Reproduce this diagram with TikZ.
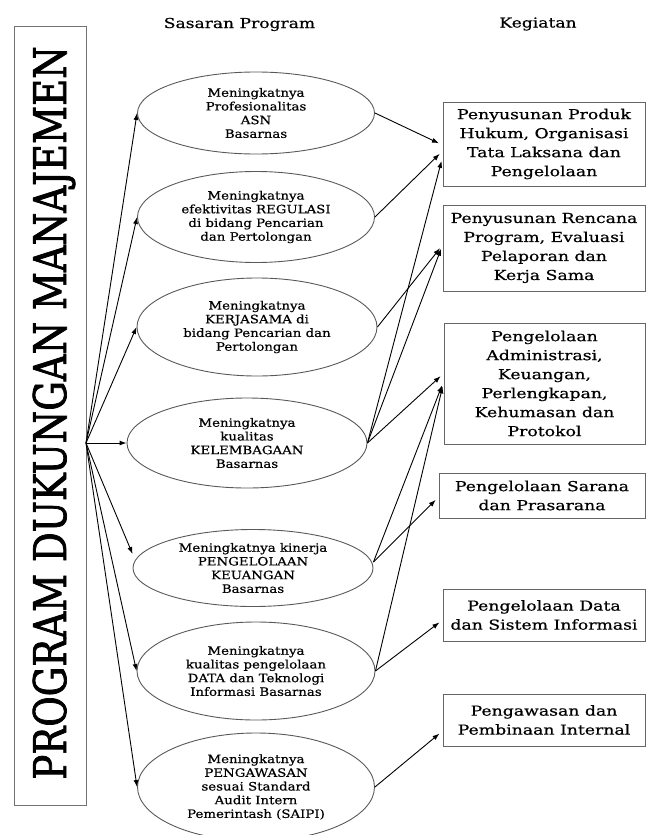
\documentclass[tikz,border=0pt]{standalone}
\usepackage{fontspec}
\setmainfont{DejaVu Serif}
\newfontfamily\ellfont[FakeStretch=1.16,FakeBold=0.6]{DejaVu Serif}
\newfontfamily\boxfont[FakeStretch=1.26,FakeBold=0.6]{DejaVu Serif}
\newfontfamily\hdrfont[FakeStretch=1.25,FakeBold=0.5]{DejaVu Serif}
\newfontfamily\ttlfont[FakeStretch=0.825,FakeBold=1.6]{DejaVu Serif}
\usetikzlibrary{shapes.geometric,arrows.meta}
\begin{document}
\begin{tikzpicture}[x=1pt,y=-1pt,
  ell/.style={ellipse, draw=black!65, line width=0.9pt, inner sep=0pt, align=center,
    font=\ellfont\fontsize{11.5}{13.7}\selectfont},
  kbox/.style={rectangle, draw=black!60, line width=0.9pt, inner sep=0pt, align=center,
    font=\boxfont\fontsize{13.7}{19}\selectfont, minimum width=202pt},
  hdr/.style={font=\hdrfont\fontsize{13.7}{16}\selectfont, inner sep=0pt},
  arr/.style={-{Latex[length=7pt,width=5pt]}, line width=0.9pt, black},
  arrb/.style={arr, shorten >=4pt},
]
\useasboundingbox (0,0) rectangle (646,835);

% title box
\node[draw=black!55, line width=0.9pt, minimum width=72pt, minimum height=779pt, inner sep=0pt] (tbox) at (50,415.5) {};
\node[rotate=90, inner sep=0pt, font=\ttlfont\fontsize{45}{45}\selectfont] (title) at (54,413) {PROGRAM DUKUNGAN MANAJEMEN};

% headers
\node[hdr, anchor=base] (h1) at (239.5,28) {Sasaran Program};
\node[hdr, anchor=base] (h2) at (538,27.5) {Kegiatan};

% ellipses
\node[ell, minimum width=237pt, minimum height=82pt] (e1) at (256,113) {Meningkatnya\\Profesionalitas\\ASN\\Basarnas};
\node[ell, minimum width=237pt, minimum height=91pt] (e2) at (256,217) {Meningkatnya\\efektivitas REGULASI\\di bidang Pencarian\\dan Pertolongan};
\node[ell, minimum width=240pt, minimum height=98pt] (e3) at (257,327) {Meningkatnya\\KERJASAMA di\\bidang Pencarian dan\\Pertolongan};
\node[ell, minimum width=240pt, minimum height=90pt] (e4) at (247,443) {Meningkatnya\\kualitas\\KELEMBAGAAN\\Basarnas};
\node[ell, minimum width=240pt, minimum height=77pt] (e5) at (253,568) {Meningkatnya kinerja\\PENGELOLAAN\\KEUANGAN\\Basarnas};
\node[ell, minimum width=238pt, minimum height=98pt] (e6) at (256,671) {Meningkatnya\\kualitas pengelolaan\\DATA dan Teknologi\\Informasi Basarnas};
\node[ell, minimum width=237pt, minimum height=108pt] (e7) at (256,787) {Meningkatnya\\PENGAWASAN\\sesuai Standard\\Audit Intern\\Pemerintash (SAIPI)};

% boxes
\node[kbox, minimum height=84pt] (b1) at (544,144) {Penyusunan Produk\\Hukum, Organisasi\\Tata Laksana dan\\Pengelolaan};
\node[kbox, minimum height=86pt] (b2) at (544,248) {Penyusunan Rencana\\Program, Evaluasi\\Pelaporan dan\\Kerja Sama};
\node[kbox, minimum width=201pt, minimum height=121pt] (b3) at (544.5,383.5) {Pengelolaan\\Administrasi,\\Keuangan,\\Perlengkapan,\\Kehumasan dan\\Protokol};
\node[kbox, minimum width=206pt, minimum height=45pt] (b4) at (542,495.5) {Pengelolaan Sarana\\dan Prasarana};
\node[kbox, minimum height=52pt] (b5) at (544,615) {Pengelolaan Data\\dan Sistem Informasi};
\node[kbox, minimum height=52pt] (b6) at (544,720) {Pengawasan dan\\Pembinaan Internal};

% program to targets
\coordinate (src) at (86,443);
\draw[arr] (src) -- (e1.west);
\draw[arr] (src) -- (e2.west);
\draw[arr] (src) -- (e3.west);
\draw[arr] (src) -- (e4.west);
\draw[arr] (src) -- ([yshift=14pt]e5.west);
\draw[arr] (src) -- (e6.west);
\draw[arr] (src) -- (e7.west);

% targets to activities
\draw[arrb] (e1.east) -- ([yshift=-1pt]b1.west);
\draw[arrb] (e2.east) -- ([yshift=-7pt]b1.west);
\draw[arrb] (e4.east) -- ([yshift=-13pt]b1.west);
\draw[arrb] (e3.east) -- ([yshift=3pt]b2.west);
\draw[arrb] (e4.east) -- ([yshift=3pt]b2.west);
\draw[arrb] (e4.east) -- ([yshift=10pt]b3.west);
\draw[arrb] ([yshift=6pt]e5.east) -- ([yshift=2pt]b3.west);
\draw[arrb] (e6.east) -- ([yshift=1pt]b3.west);
\draw[arrb] ([yshift=6pt]e5.east) -- ([yshift=-1.5pt]b4.west);
\draw[arrb] (e6.east) -- ([yshift=-5pt]b5.west);
\draw[arrb] (e7.east) -- ([yshift=-11pt]b6.west);
\end{tikzpicture}
\end{document}
